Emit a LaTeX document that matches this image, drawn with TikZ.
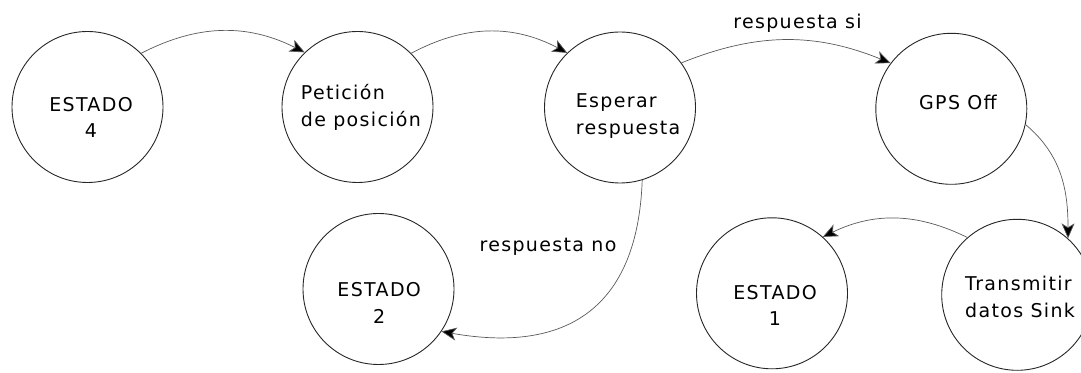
\documentclass[tikz,border=0pt]{standalone}
\usepackage{fontspec}
\setmainfont{DejaVu Sans}[LetterSpace=7]
\usetikzlibrary{arrows.meta}
\tikzset{
  state/.style={draw=black!85, circle, minimum size=151pt, inner sep=0pt, line width=0.9pt},
  txt/.style={inner sep=0pt, text=black},
  conn/.style={draw=black!65, line width=0.7pt, -{Stealth[length=15pt, width=13pt, inset=4pt, fill=black]}},
}
\begin{document}
\begin{tikzpicture}[x=1pt, y=1pt, font=\fontsize{19}{26.5}\selectfont]
\useasboundingbox (0,0) rectangle (1081,372);
\clip (0,0) rectangle (1081,372);
% states
\node[state] (e4)  at (87.5, 265) {};
\node[state] (pet) at (357.5, 265) {};
\node[state] (esp) at (620, 264.5) {};
\node[state] (gps) at (951.3, 263.2) {};
\node[state] (e2)  at (378.5, 83) {};
\node[state] (e1)  at (772, 78.7) {};
\node[state] (tr)  at (1017.2, 77.2) {};
% state texts
\node[txt, align=center] (e4t) at (91, 254.3) {ESTADO\\4};
\node[txt, align=left, anchor=west] (pett) at (300.7, 264.8) {Petición\\de posición};
\node[txt, align=left, anchor=west] (espt) at (575.7, 256.1) {Esperar\\respuesta};
\node[txt] (gpst) at (958, 269.6) {GPS Off};
\node[txt, align=center] (e2t) at (379.2, 68.8) {ESTADO\\2};
\node[txt, align=center] (e1t) at (775, 66.7) {ESTADO\\1};
\node[txt, align=left, anchor=west] (trt) at (965, 75) {Transmitir\\datos Sink};
% connectors
\draw[conn] (e4.45) to[bend left=27] (pet.134);
\draw[conn] (pet.45) to[bend left=28] (esp.134);
\draw[conn] (esp.36) to[bend left=22] (gps.143);
\draw[conn] (gps.-12) to[out=-40, in=90] (tr.48);
\draw[conn] (tr.131) to[bend right=26] (e1.48);
\draw[conn] (esp.-73) to[out=-92, in=-10, looseness=1.3] (e2.-34);
% labels
\node[txt] (lsi) at (797.5, 348.7) {respuesta si};
\node[txt] (lno) at (548, 125) {respuesta no};
\end{tikzpicture}
\end{document}
